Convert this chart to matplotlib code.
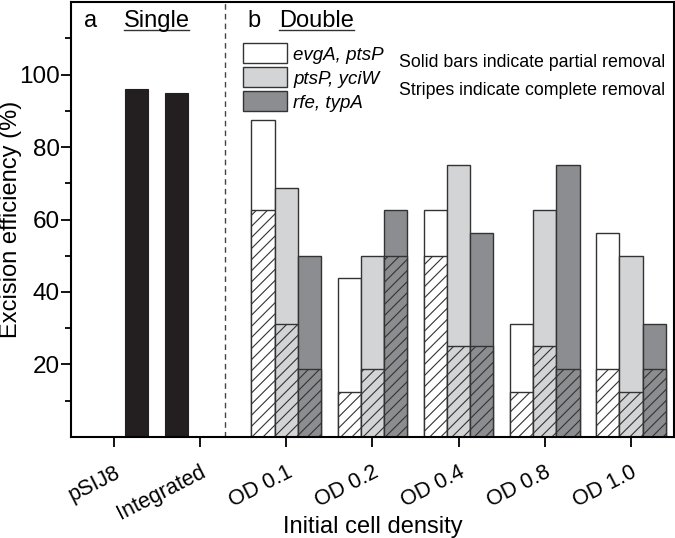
import matplotlib
matplotlib.use("Agg")
import matplotlib.pyplot as plt
from matplotlib.patches import Patch
import numpy as np

plt.rcParams['font.family'] = ['Liberation Sans', 'DejaVu Sans']
plt.rcParams['hatch.linewidth'] = 0.8
plt.rcParams['hatch.color'] = '#333333'

tick_labels = ['pSIJ8', 'Integrated', 'OD 0.1', 'OD 0.2', 'OD 0.4', 'OD 0.8', 'OD 1.0']
single_values = [96, 95]

pair_names = ['evgA, ptsP', 'ptsP, yciW', 'rfe, typA']
# total (partial + complete) and complete removal, per OD group
total = {
    'evgA, ptsP': [87.5, 43.75, 62.5, 31.25, 56.25],
    'ptsP, yciW': [68.75, 50, 75, 62.5, 50],
    'rfe, typA': [50, 62.5, 56.25, 75, 31.25],
}
complete = {
    'evgA, ptsP': [62.5, 12.5, 50, 12.5, 18.75],
    'ptsP, yciW': [31.25, 18.75, 25, 25, 12.5],
    'rfe, typA': [18.75, 50, 25, 18.75, 18.75],
}
colors = ['#ffffff', '#d3d4d6', '#8c8d90']

fig = plt.figure(figsize=(6.75, 5.38), dpi=100)
ax = fig.add_axes([0.105, 0.188, 0.8935, 0.808])

edge = '#333333'
w = 0.27

# single panel
ax.bar([0.26, 0.73], single_values, width=w, color='#231f20', edgecolor='#231f20', linewidth=0.8)

# double panel
xg = np.arange(2, 7)
for i, name in enumerate(pair_names):
    xs = xg + (i - 1) * w
    ax.bar(xs, total[name], width=w, color=colors[i], edgecolor=edge, linewidth=1.0)
    ax.bar(xs, complete[name], width=w, color=colors[i], edgecolor=edge, linewidth=1.0, hatch='///')

ax.axvline(1.29, color='#444444', linestyle=(0, (4, 3)), linewidth=1.0)

ax.set_xlim(-0.5, 6.5)
ax.set_ylim(0, 120)
ax.set_xticks(range(7))
ax.set_xticklabels(tick_labels, rotation=27, ha='right', rotation_mode='anchor', fontsize=15.5)
ax.set_yticks([20, 40, 60, 80, 100])
ax.set_yticks(np.arange(10, 120, 10), minor=True)
ax.tick_params(axis='y', which='major', length=7, width=1.3, labelsize=17.5, pad=1)
ax.tick_params(axis='y', which='minor', length=4, width=1.3)
ax.tick_params(axis='x', which='major', length=7, width=1.3, pad=11)
for s in ax.spines.values():
    s.set_linewidth(1.5)

ax.set_ylabel('Excision efficiency (%)', fontsize=17)
ax.yaxis.set_label_coords(-0.081, 0.5)
ax.set_xlabel('Initial cell density', fontsize=17)
ax.xaxis.set_label_coords(0.5, -0.183)

# panel titles
ax.text(-0.35, 114.8, 'a', fontsize=17, va='center')
ax.text(0.116, 114.8, 'Single', fontsize=17, va='center')
ax.text(1.55, 114.8, 'b', fontsize=17, va='center')
ax.text(1.916, 114.8, 'Double', fontsize=17, va='center')
ax.plot([0.116, 0.871], [112.2, 112.2], color='#333333', lw=1.0)
ax.plot([1.916, 2.787], [112.2, 112.2], color='#333333', lw=1.0)

handles = [Patch(facecolor=c, edgecolor=edge, linewidth=1.0) for c in colors]
leg = ax.legend(handles, pair_names, loc='upper left', bbox_to_anchor=(0.285, 0.905),
                frameon=False, fontsize=13.5, handlelength=2.35, handleheight=1.25,
                labelspacing=0.2, handletextpad=0.35, borderaxespad=0, borderpad=0)
for t in leg.get_texts():
    t.set_fontstyle('italic')

ax.text(0.985, 103.3, 'Solid bars indicate partial removal', fontsize=12.8, ha='right', va='center',
        transform=ax.get_yaxis_transform())
ax.text(0.985, 95.6, 'Stripes indicate complete removal', fontsize=12.8, ha='right', va='center',
        transform=ax.get_yaxis_transform())

fig.savefig('out.png', dpi=100)
